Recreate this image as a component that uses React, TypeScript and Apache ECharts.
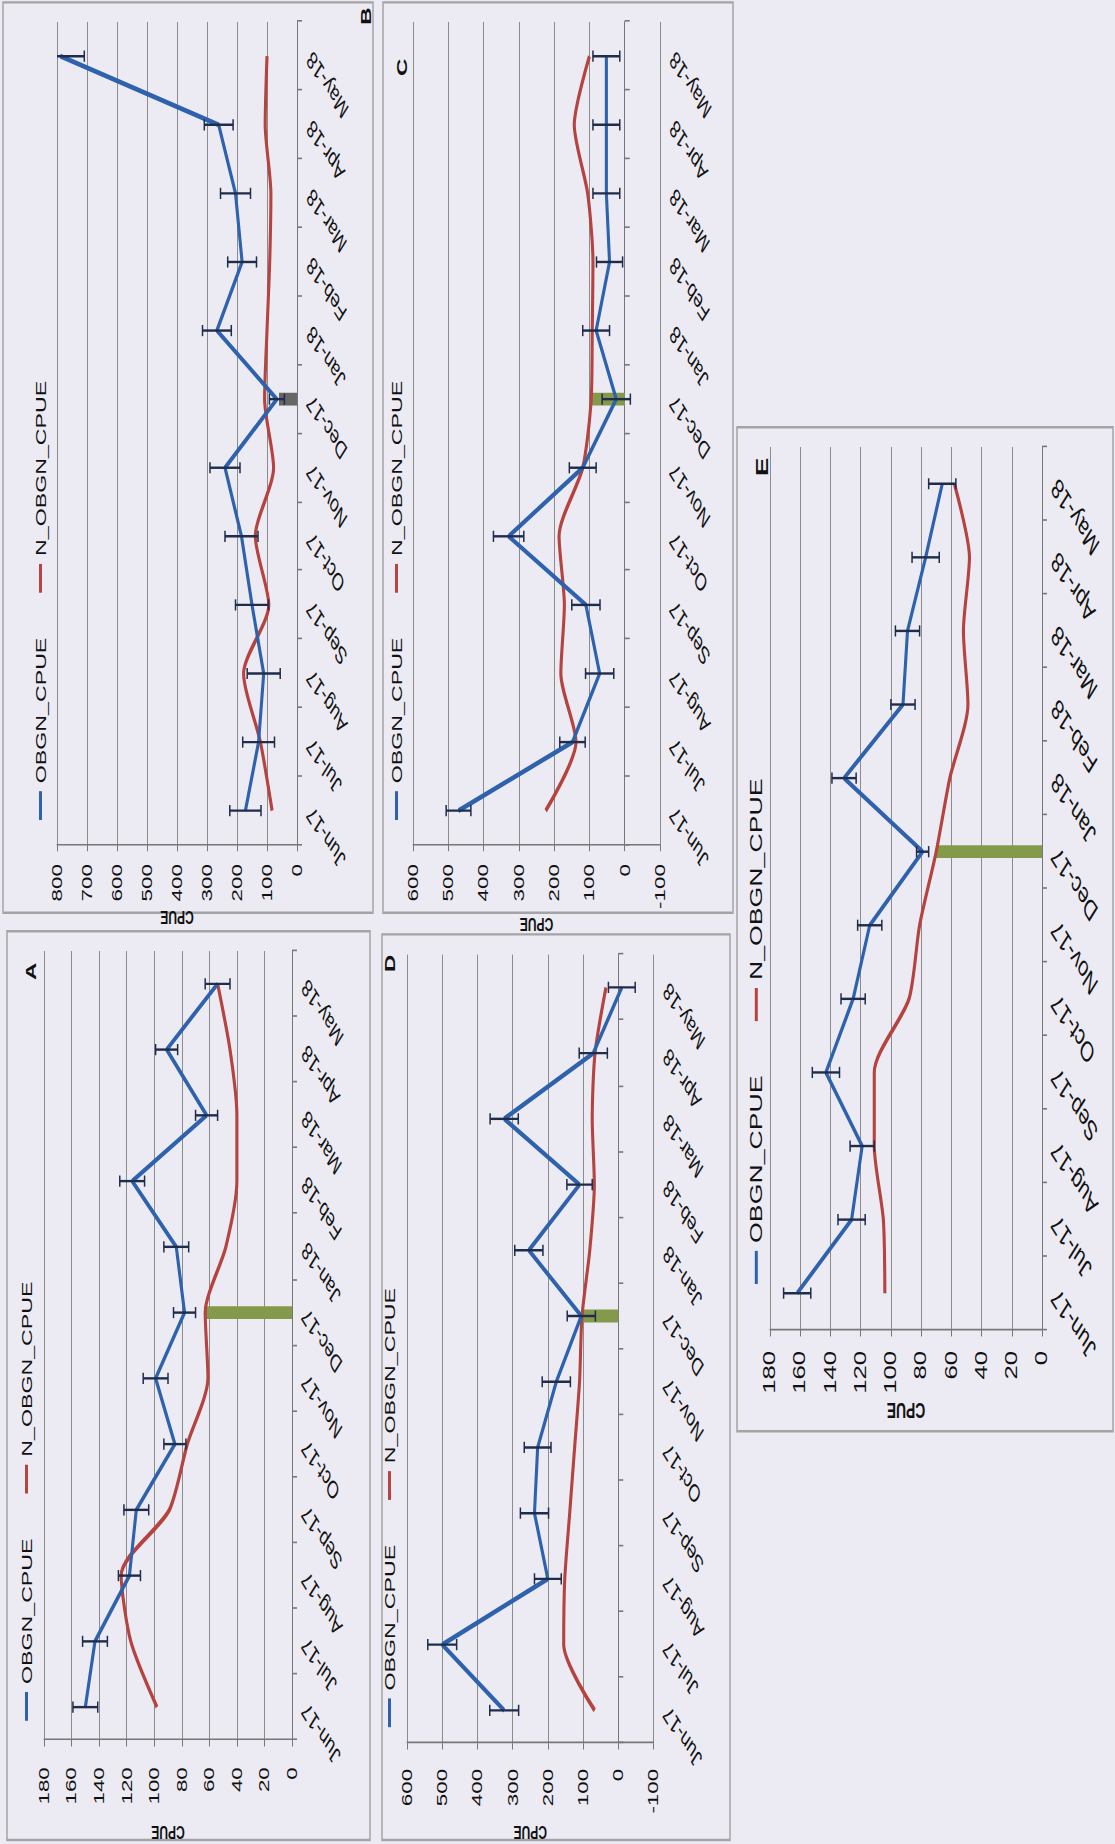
import React, { useEffect, useRef } from 'react';
import * as echarts from 'echarts';

// ---------------- data ----------------
const MONTHS = ['Jun-17', 'Jul-17', 'Aug-17', 'Sep-17', 'Oct-17', 'Nov-17', 'Dec-17', 'Jan-18', 'Feb-18', 'Mar-18', 'Apr-18', 'May-18'];
const MARK_MONTH = 'Dec-17';
const SERIES_NAMES = ['OBGN_CPUE', 'N_OBGN_CPUE'];
const AXIS_TITLE = 'CPUE';

const A_OBGN = [150, 143, 118, 113, 85, 99, 78, 84, 116, 62, 91, 54];
const A_OBGN_ERR = [9, 9, 8, 9, 8, 9, 8, 9, 9, 8, 8, 9];
const A_N_OBGN = [98, 117, 124, 89, 76, 61, 63, 48, 40, 40, 45, 54];
const A_DEC_BAR = 63;
const A_TICKS = [0, 20, 40, 60, 80, 100, 120, 140, 160, 180];

const B_OBGN = [172, 128, 111, 150, 185, 240, 67, 267, 183, 205, 261, 789];
const B_OBGN_ERR = [52, 53, 55, 55, 55, 50, 25, 48, 48, 50, 48, 80];
const B_N_OBGN = [83, 122, 178, 94, 139, 78, 108, 100, 91, 87, 106, 100];
const B_DEC_BAR = 60;
const B_TICKS = [0, 100, 200, 300, 400, 500, 600, 700, 800];

const C_OBGN = [471, 148, 71, 110, 329, 119, 24, 81, 43, 52, 52, 52];
const C_OBGN_ERR = [35, 36, 40, 40, 43, 38, 40, 38, 37, 38, 38, 38];
const C_N_OBGN = [224, 138, 181, 171, 186, 119, 95, 92, 90, 105, 143, 100];
const C_DEC_BAR = 95;
const C_TICKS = [-100, 0, 100, 200, 300, 400, 500, 600];

const D_OBGN = [324, 500, 200, 238, 229, 176, 105, 254, 110, 324, 71, -10];
const D_OBGN_ERR = [41, 41, 38, 40, 38, 40, 40, 40, 36, 40, 40, 38];
const D_N_OBGN = [67, 155, 152, 138, 124, 110, 103, 81, 68, 74, 66, 35];
const D_DEC_BAR = 100;
const D_TICKS = [-100, 0, 100, 200, 300, 400, 500, 600];

const E_OBGN = [162, 126, 119, 143, 125, 114, 79, 131, 92, 89, 77, 66];
const E_OBGN_ERR = [9, 9, 8, 9, 8, 8, 4, 8, 8, 8, 9, 9];
const E_N_OBGN = [104, 105, 111, 111, 88, 81, 70, 61, 49, 52, 48, 58];
const E_DEC_BAR = 70;
const E_TICKS = [0, 20, 40, 60, 80, 100, 120, 140, 160, 180];

// ---------------- page geometry & styles ----------------
const PAGE_W = 1115;
const PAGE_H = 1844;
const STRETCH = 1.6; // scan is stretched along the page's vertical direction
const U_W = Math.ceil(PAGE_H / STRETCH);
const U_H = PAGE_W;

const FONT = '"Liberation Sans", Arial, sans-serif';
const BG = '#ecebf4';
const TEXT = '#111111';
const GRID_COLOR = '#8c8c8c';
const AXIS_COLOR = '#777777';
const BOX_COLOR = '#a4a4a4';
const BLUE = '#2f62ad';
const RED = '#b5433f';
const ERR_COLOR = '#1f2c4a';
const GREEN = '#849a4a';
const GREY_BAR = '#666666';

const PANELS = [
  { letter: 'A', obgn: A_OBGN, err: A_OBGN_ERR, nobgn: A_N_OBGN, bar: A_DEC_BAR, ticks: A_TICKS, barColor: GREEN, fs: 1,
    box: [2.5, 7, 568, 363], grid: [63.75, 44, 494.4, 248], legend: [77, 27], legendGap: 28, title: [545, 31], labelMargin: 17, nameGap: 52 },
  { letter: 'B', obgn: B_OBGN, err: B_OBGN_ERR, nobgn: B_N_OBGN, bar: B_DEC_BAR, ticks: B_TICKS, barColor: GREY_BAR, fs: 1,
    box: [582, 3, 569, 370], grid: [624.4, 57, 514.4, 240], legend: [640, 41], legendGap: 28, title: [1142, 366], labelMargin: 12, nameGap: 36 },
  { letter: 'C', obgn: C_OBGN, err: C_OBGN_ERR, nobgn: C_N_OBGN, bar: C_DEC_BAR, ticks: C_TICKS, barColor: GREEN, fs: 1,
    box: [582, 383, 569, 350], grid: [624.4, 413, 514.4, 247], legend: [640, 397], legendGap: 28, title: [1110, 402], labelMargin: 12, nameGap: 36 },
  { letter: 'D', obgn: D_OBGN, err: D_OBGN_ERR, nobgn: D_N_OBGN, bar: D_DEC_BAR, ticks: D_TICKS, barColor: GREEN, fs: 1,
    box: [2.5, 382, 566, 348], grid: [60.2, 407, 495.7, 246.5], legend: [73, 390], legendGap: 28, title: [550, 390], labelMargin: 16, nameGap: 50 },
  { letter: 'E', obgn: E_OBGN, err: E_OBGN_ERR, nobgn: E_N_OBGN, bar: E_DEC_BAR, ticks: E_TICKS, barColor: GREEN, fs: 1.15,
    box: [258, 737, 627.5, 376], grid: [321.25, 770, 551.9, 272], legend: [350, 757], legendGap: 34, title: [860, 762], labelMargin: 13, nameGap: 42 },
];

function buildOption() {
  const series: any[] = [];
  PANELS.forEach((p, i) => {
    series.push({
      type: 'bar', name: 'mark', xAxisIndex: i, yAxisIndex: i, silent: true, z: 1,
      barWidth: 8,
      itemStyle: { color: p.barColor },
      data: MONTHS.map((m) => (m === MARK_MONTH ? p.bar : '-')),
    });
    series.push({
      type: 'line', name: SERIES_NAMES[1], xAxisIndex: i, yAxisIndex: i, silent: true, z: 2,
      color: RED, showSymbol: false, smooth: 0.25,
      lineStyle: { color: RED, width: 3.1 },
      data: p.nobgn,
    });
    series.push({
      type: 'line', name: SERIES_NAMES[0], xAxisIndex: i, yAxisIndex: i, silent: true, z: 3,
      color: BLUE, showSymbol: false,
      lineStyle: { color: BLUE, width: 3.1 },
      data: p.obgn,
    });
    series.push({
      type: 'custom', name: 'err', xAxisIndex: i, yAxisIndex: i, silent: true, z: 4, clip: true,
      encode: { x: 0, y: [1, 2] },
      data: p.obgn.map((v, j) => [j, v - p.err[j], v + p.err[j]]),
      renderItem: (params: any, api: any) => {
        const x = api.value(0);
        const lo = api.coord([x, api.value(1)]);
        const hi = api.coord([x, api.value(2)]);
        const cap = 3.5;
        const st = { stroke: ERR_COLOR, lineWidth: 1.5 };
        return {
          type: 'group',
          children: [
            { type: 'line', shape: { x1: lo[0], y1: lo[1], x2: hi[0], y2: hi[1] }, style: st },
            { type: 'line', shape: { x1: lo[0] - cap, y1: lo[1], x2: lo[0] + cap, y2: lo[1] }, style: st },
            { type: 'line', shape: { x1: hi[0] - cap, y1: hi[1], x2: hi[0] + cap, y2: hi[1] }, style: st },
          ],
        };
      },
    });
  });

  return {
    animation: false,
    backgroundColor: BG,
    textStyle: { fontFamily: FONT },
    grid: PANELS.map((p) => ({ left: p.grid[0], top: p.grid[1], width: p.grid[2], height: p.grid[3] })),
    xAxis: PANELS.map((p, i) => ({
      type: 'category', gridIndex: i, data: MONTHS, boundaryGap: true,
      axisLine: { show: true, onZero: true, lineStyle: { color: AXIS_COLOR, width: 1 } },
      axisTick: { show: true, length: 5, lineStyle: { color: AXIS_COLOR } },
      axisLabel: { interval: 0, rotate: 45, fontSize: 15.5 * p.fs, color: TEXT, margin: 12, fontFamily: FONT },
      splitLine: { show: false },
    })),
    yAxis: PANELS.map((p, i) => ({
      type: 'value', gridIndex: i,
      min: p.ticks[0], max: p.ticks[p.ticks.length - 1], interval: p.ticks[1] - p.ticks[0],
      axisLine: { show: true, lineStyle: { color: AXIS_COLOR, width: 1 } },
      axisTick: { show: true, length: 4, lineStyle: { color: AXIS_COLOR } },
      axisLabel: { fontSize: 14 * p.fs, color: TEXT, margin: p.labelMargin, fontFamily: FONT },
      splitLine: { show: true, lineStyle: { color: GRID_COLOR, width: 1 } },
      name: AXIS_TITLE, nameLocation: 'middle', nameGap: p.nameGap,
      nameTextStyle: { fontWeight: 'bold', fontSize: 12 * p.fs, color: TEXT, fontFamily: FONT },
    })),
    legend: PANELS.map((p) => ({
      data: SERIES_NAMES, left: p.legend[0], top: p.legend[1] - 8 * p.fs, orient: 'horizontal',
      icon: 'rect', itemWidth: 18 * p.fs, itemHeight: 3, itemGap: p.legendGap, padding: 0, selectedMode: false,
      textStyle: { fontSize: 14.5 * p.fs, color: TEXT, fontFamily: FONT },
    })),
    title: PANELS.map((p) => ({
      text: p.letter, left: p.title[0] - 5, top: p.title[1] - 8, padding: 0,
      textStyle: { fontSize: 15 * p.fs, fontWeight: 'bold', color: TEXT, fontFamily: FONT },
    })),
    graphic: PANELS.map((p) => ({
      type: 'rect', silent: true, z: 0,
      shape: { x: p.box[0], y: p.box[1], width: p.box[2], height: p.box[3] },
      style: { fill: 'none', stroke: BOX_COLOR, lineWidth: 1.5 },
    })),
    series,
  };
}

export default function App() {
  const ref = useRef<HTMLDivElement>(null);
  useEffect(() => {
    if (!ref.current) return;
    const chart = echarts.init(ref.current, undefined, { renderer: 'svg' });
    chart.setOption(buildOption() as any);
    return () => chart.dispose();
  }, []);
  return (
    <div style={{ position: 'absolute', left: 0, top: 0, width: PAGE_W, height: PAGE_H, overflow: 'hidden', background: BG }}>
      <div
        ref={ref}
        style={{
          position: 'absolute', left: 0, top: 0, width: U_W, height: U_H,
          transformOrigin: '0 0',
          transform: `translate(0px, ${PAGE_H}px) rotate(-90deg) scale(${STRETCH}, 1)`,
        }}
      />
    </div>
  );
}
